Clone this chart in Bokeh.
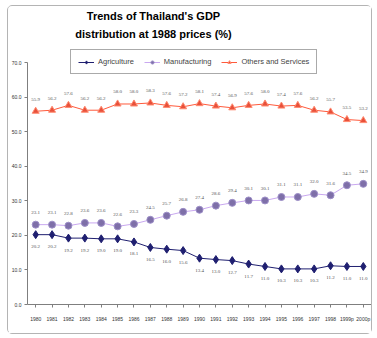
from bokeh.plotting import figure
from bokeh.models import (Range1d, FixedTicker, ColumnDataSource, LabelSet, Label,
                          Legend, LegendItem)
from bokeh.embed import file_html
from bokeh.resources import INLINE

years = ["1980", "1981", "1982", "1983", "1984", "1985", "1986", "1987", "1988", "1989",
         "1990", "1991", "1992", "1993", "1994", "1995", "1996", "1997", "1998", "1999p", "2000p"]
agriculture = [20.2, 20.2, 19.2, 19.2, 19.0, 19.0, 18.1, 16.5, 16.0, 15.6, 13.4,
               13.0, 12.7, 11.7, 11.0, 10.3, 10.3, 10.3, 11.2, 11.0, 11.0]
manufacturing = [23.1, 23.1, 22.8, 23.6, 23.6, 22.6, 23.3, 24.5, 25.7, 26.8, 27.4,
                 28.6, 29.4, 30.1, 30.1, 31.1, 31.1, 32.0, 31.6, 34.5, 34.9]
others = [55.9, 56.2, 57.6, 56.2, 56.2, 58.0, 58.0, 58.3, 57.6, 57.2, 58.1,
          57.4, 56.9, 57.6, 58.0, 57.4, 57.6, 56.2, 55.7, 53.5, 53.2]
y_ticks = [0, 10, 20, 30, 40, 50, 60, 70]
title_lines = ["Trends of Thailand's GDP", "distribution at 1988 prices (%)"]

xs = list(range(len(years)))
src = ColumnDataSource(dict(
    x=xs, agr=agriculture, man=manufacturing, oth=others,
    agr_t=["%.1f" % v for v in agriculture],
    man_t=["%.1f" % v for v in manufacturing],
    oth_t=["%.1f" % v for v in others],
))

# y range extends above the 70 tick to leave room for the title and legend
p = figure(width=365, height=329, output_backend="svg", toolbar_location=None,
           x_range=Range1d(-0.5, len(years) - 0.5), y_range=Range1d(0, 86.2),
           min_border_left=18, min_border_right=2, min_border_top=0, min_border_bottom=31)
p.margin = (5, 5, 4, 7)
p.styles = {"border": "1px solid #b4b4b4", "border-radius": "5px"}
p.outline_line_color = None
p.xgrid.grid_line_color = None
p.ygrid.grid_line_color = None

# axes
p.yaxis.ticker = FixedTicker(ticks=y_ticks)
p.yaxis.bounds = (0, 70)
p.yaxis.major_label_overrides = {t: "%.1f" % t for t in y_ticks}
p.xaxis.ticker = FixedTicker(ticks=xs)
p.xaxis.major_label_overrides = {i: y for i, y in enumerate(years)}
for ax in (p.xaxis[0], p.yaxis[0]):
    ax.axis_line_color = "#7f7f7f"
    ax.major_tick_line_color = "#7f7f7f"
    ax.minor_tick_line_color = None
    ax.major_tick_in = 0
    ax.major_tick_out = 3
    ax.major_label_text_font = "Liberation Sans"
    ax.major_label_text_font_size = "5px"
    ax.major_label_text_color = "#333333"
p.yaxis.major_label_standoff = 3
p.xaxis.major_label_standoff = 8

# series
c_agr, c_man, c_oth = "#1f1f70", "#c9a8f0", "#ff5a3c"
r1 = p.line("x", "agr", source=src, color=c_agr, line_width=1)
m1 = p.scatter("x", "agr", source=src, marker="diamond", size=8, fill_color=c_agr, line_color=c_agr)
r2 = p.line("x", "man", source=src, color=c_man, line_width=1)
m2 = p.scatter("x", "man", source=src, marker="circle", size=7, fill_color="#7e6fa8", line_color="#9d8fc8")
r3 = p.line("x", "oth", source=src, color=c_oth, line_width=1)
m3 = p.scatter("x", "oth", source=src, marker="triangle", size=7, fill_color="#e8503a", line_color="#ff8a70")

lab_kw = dict(source=src, x="x", text_font="Liberation Sans", text_font_size="5px",
              text_color="#555555", text_align="center", text_baseline="middle")
p.add_layout(LabelSet(y="oth", text="oth_t", y_offset=12, **lab_kw))
p.add_layout(LabelSet(y="man", text="man_t", y_offset=12, **lab_kw))
p.add_layout(LabelSet(y="agr", text="agr_t", y_offset=-12, **lab_kw))

legend = Legend(items=[LegendItem(label="Agriculture", renderers=[r1, m1]),
                       LegendItem(label="Manufacturing", renderers=[r2, m2]),
                       LegendItem(label="Others and Services", renderers=[r3, m3])],
                orientation="horizontal", location=(43, 230),
                label_text_font="Liberation Sans", label_text_font_size="7.5px",
                glyph_width=16, glyph_height=8, label_height=8, label_standoff=4,
                spacing=10, padding=7, margin=0,
                border_line_color="#555555", border_line_width=1,
                background_fill_alpha=1)
p.add_layout(legend)

# title (screen units are relative to the plot frame, origin bottom-left)
for i, t in enumerate(title_lines):
    p.add_layout(Label(x=126, y=289 - 18 * i, x_units="screen", y_units="screen",
                       text=t, text_font="Liberation Sans", text_font_style="bold",
                       text_font_size="11px", text_color="black",
                       text_align="center", text_baseline="middle"))

open("out.html", "w").write(file_html(p, INLINE))
